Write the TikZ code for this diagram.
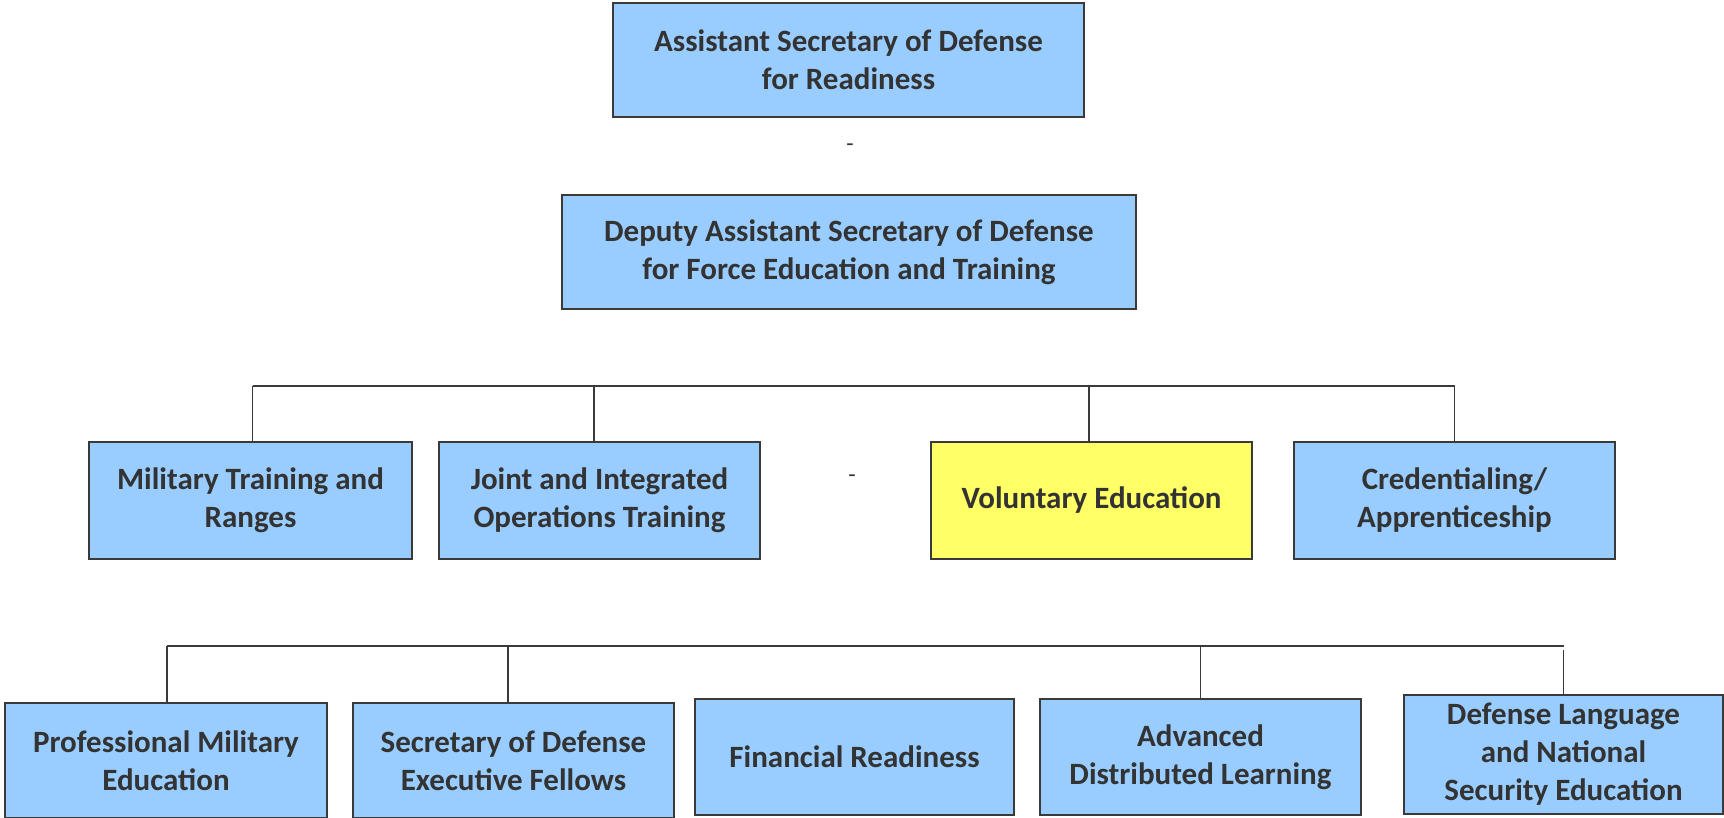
\documentclass[tikz,border=0pt]{standalone}
\usepackage{fontspec}
\setmainfont{Carlito}
\definecolor{boxblue}{HTML}{99CCFF}
\definecolor{boxyellow}{HTML}{FFFF66}
\definecolor{edgegray}{HTML}{3A3A3A}
\definecolor{txtgray}{HTML}{333333}
\begin{document}
\begin{tikzpicture}[x=1pt,y=-1pt,
  orgbox/.style={draw=edgegray,line width=2.2pt,fill=boxblue,rectangle,align=center,
    text=txtgray,font=\bfseries\fontsize{31}{38}\selectfont,inner sep=0pt},
  conn/.style={draw=edgegray,line width=1.5pt},
  dashmark/.style={text=txtgray,font=\fontsize{24}{28}\selectfont,inner sep=0pt}]
\useasboundingbox (0,0) rectangle (1724,818);
\node[orgbox,minimum width=471pt,minimum height=114pt] (asd) at (848.5,60) {Assistant Secretary of Defense\\for Readiness};
\node[dashmark] (d1) at (850,148) {-};
\node[orgbox,minimum width=574pt,minimum height=114pt] (dasd) at (849,252) {Deputy Assistant Secretary of Defense\\for Force Education and Training};
\node[orgbox,minimum width=323pt,minimum height=117pt] (mil) at (250.5,500.5) {Military Training and\\Ranges};
\node[orgbox,minimum width=321pt,minimum height=117pt] (joint) at (599.5,500.5) {Joint and Integrated\\Operations Training};
\node[dashmark] (d2) at (852,479) {-};
\node[orgbox,fill=boxyellow,minimum width=321pt,minimum height=117pt] (vol) at (1091.5,500.5) {Voluntary Education};
\node[orgbox,minimum width=321pt,minimum height=117pt] (cred) at (1454.5,500.5) {Credentialing/\\Apprenticeship};
\node[orgbox,minimum width=322pt,minimum height=115pt] (prof) at (166,760.5) {Professional Military\\Education};
\node[orgbox,minimum width=321pt,minimum height=115pt] (sec) at (513.5,760.5) {Secretary of Defense\\Executive Fellows};
\node[orgbox,minimum width=319pt,minimum height=116pt] (fin) at (854.5,757) {Financial Readiness};
\node[orgbox,minimum width=321pt,minimum height=116pt] (adv) at (1200.5,757) {Advanced\\Distributed Learning};
\node[orgbox,minimum width=319pt,minimum height=119pt] (dl) at (1563.5,754.5) {Defense Language\\and National\\Security Education};
% drop points on box tops
\coordinate (tmil) at ([xshift=2pt]mil.north);
\coordinate (tjoint) at ([xshift=-5.5pt]joint.north);
\coordinate (tvol) at ([xshift=-2.5pt]vol.north);
\coordinate (tcred) at (cred.north);
\coordinate (tprof) at ([xshift=1pt]prof.north);
\coordinate (tsec) at ([xshift=-5.5pt]sec.north);
\coordinate (tadv) at (adv.north);
\coordinate (tdl) at (dl.north);
% level 2 bus
\coordinate (busA) at (0,386);
\draw[conn] (busA -| tmil) -- (busA -| tcred);
\foreach \n in {tmil,tjoint,tvol,tcred} \draw[conn] (busA -| \n) -- (\n);
% level 3 bus
\coordinate (busB) at (0,646);
\draw[conn] (busB -| tprof) -- (busB -| tdl);
\foreach \n in {tprof,tsec,tadv} \draw[conn] (busB -| \n) -- (\n);
\draw[conn] ([yshift=-4pt]busB -| tdl) -- (tdl);
\end{tikzpicture}
\end{document}
